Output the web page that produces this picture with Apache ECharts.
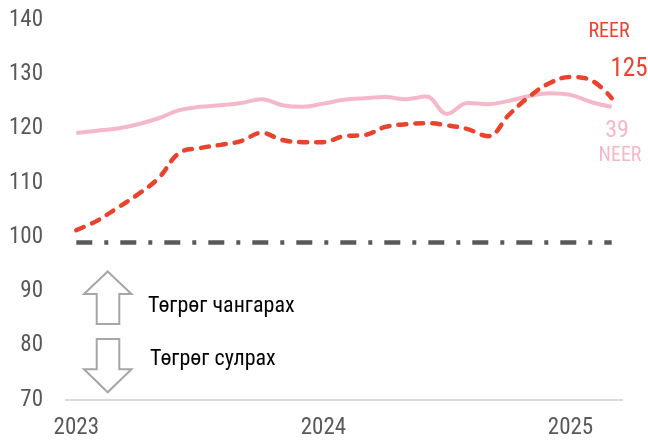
<!DOCTYPE html>
<html><head><meta charset="utf-8">
<script src="https://cdn.jsdelivr.net/npm/echarts@6/dist/echarts.min.js"></script>
<style>html,body{margin:0;padding:0;background:#fff}#c{width:648px;height:442px}</style>
</head><body><div id="c"></div>
<script>
const months = ['2023-01','2023-02','2023-03','2023-04','2023-05','2023-06','2023-07','2023-08','2023-09','2023-10','2023-11','2023-12',
'2024-01','2024-02','2024-03','2024-04','2024-05','2024-06','2024-07','2024-08','2024-09','2024-10','2024-11','2024-12',
'2025-01','2025-02','2025-03'];
const reer = [101.3,103.0,105.4,107.9,110.9,115.5,116.4,117.0,117.7,119.2,117.9,117.5,117.5,118.6,118.8,120.3,120.8,121.0,120.6,119.9,118.6,122.5,125.9,128.4,129.5,128.9,125.6];
const neer = [119.2,119.6,120.0,120.8,121.9,123.4,124.0,124.3,124.7,125.4,124.3,124.0,124.6,125.3,125.6,125.8,125.4,125.9,122.7,124.7,124.5,125.1,126.0,126.5,126.2,124.9,124.0];
const baseline = months.map(() => 99);
const yTicks = {min: 70, max: 140, interval: 10};
const labels = {reer: 'REER', reerLast: '125', neerLast: '39', neer: 'NEER', up: 'Төгрөг чангарах', down: 'Төгрөг сулрах'};

const FONT = 'Roboto, sans-serif';
const chart = echarts.init(document.getElementById('c'));
const arrowStyle = {fill: '#fff', stroke: '#a6a6a6', lineWidth: 2};
chart.setOption({
  animation: false,
  grid: {left: 66, right: 26, top: 20, bottom: 42},
  xAxis: {
    type: 'category', data: months, boundaryGap: true,
    axisLine: {lineStyle: {color: '#d9d9d9', width: 2}},
    axisTick: {show: false},
    axisLabel: {interval: 11, formatter: v => v.slice(0, 4), color: '#595959', fontSize: 23, fontWeight: 'condensed', fontFamily: FONT, margin: 17}
  },
  yAxis: {
    type: 'value', min: yTicks.min, max: yTicks.max, interval: yTicks.interval,
    splitLine: {show: false}, axisLine: {show: false}, axisTick: {show: false},
    axisLabel: {color: '#595959', fontSize: 23, fontWeight: 'condensed', fontFamily: FONT, margin: 23}
  },
  series: [
    {type: 'line', name: 'base', data: baseline, symbol: 'none', silent: true,
     lineStyle: {color: '#595959', width: 4.5, type: [16, 12, 4, 12]}},
    {type: 'line', name: 'NEER', data: neer, symbol: 'none', smooth: 0.4,
     lineStyle: {color: '#f4b8c9', width: 4}},
    {type: 'line', name: 'REER', data: reer, symbol: 'none', smooth: 0.4,
     lineStyle: {color: '#e8432e', width: 4.5, type: [8, 9], cap: 'round'}}
  ],
  graphic: [
    {type: 'polygon', shape: {points: [[107.7,271.5],[131.5,294],[119.3,294],[119.3,324],[96.7,324],[96.7,294],[84,294]]}, style: arrowStyle},
    {type: 'polygon', shape: {points: [[96.7,339],[119.3,339],[119.3,369.3],[131.5,369.3],[107.7,392.3],[84,369.3],[96.7,369.3]]}, style: arrowStyle},
    {type: 'text', left: 148, top: 295, style: {text: labels.up, fill: '#000', font: 'condensed 22px ' + FONT}},
    {type: 'text', left: 150, top: 348, style: {text: labels.down, fill: '#000', font: 'condensed 22px ' + FONT}},
    {type: 'text', x: 609, y: 32, style: {text: labels.reer, fill: '#e8432e', font: 'condensed 20px ' + FONT, align: 'center', verticalAlign: 'middle'}},
    {type: 'text', x: 629, y: 70, style: {text: labels.reerLast, fill: '#e8432e', font: 'condensed 25px ' + FONT, align: 'center', verticalAlign: 'middle'}},
    {type: 'text', x: 617, y: 131, style: {text: labels.neerLast, fill: '#f4b8c9', font: 'condensed 24px ' + FONT, align: 'center', verticalAlign: 'middle'}},
    {type: 'text', x: 620, y: 156, style: {text: labels.neer, fill: '#f4b8c9', font: 'condensed 20px ' + FONT, align: 'center', verticalAlign: 'middle'}}
  ]
});
</script></body></html>
